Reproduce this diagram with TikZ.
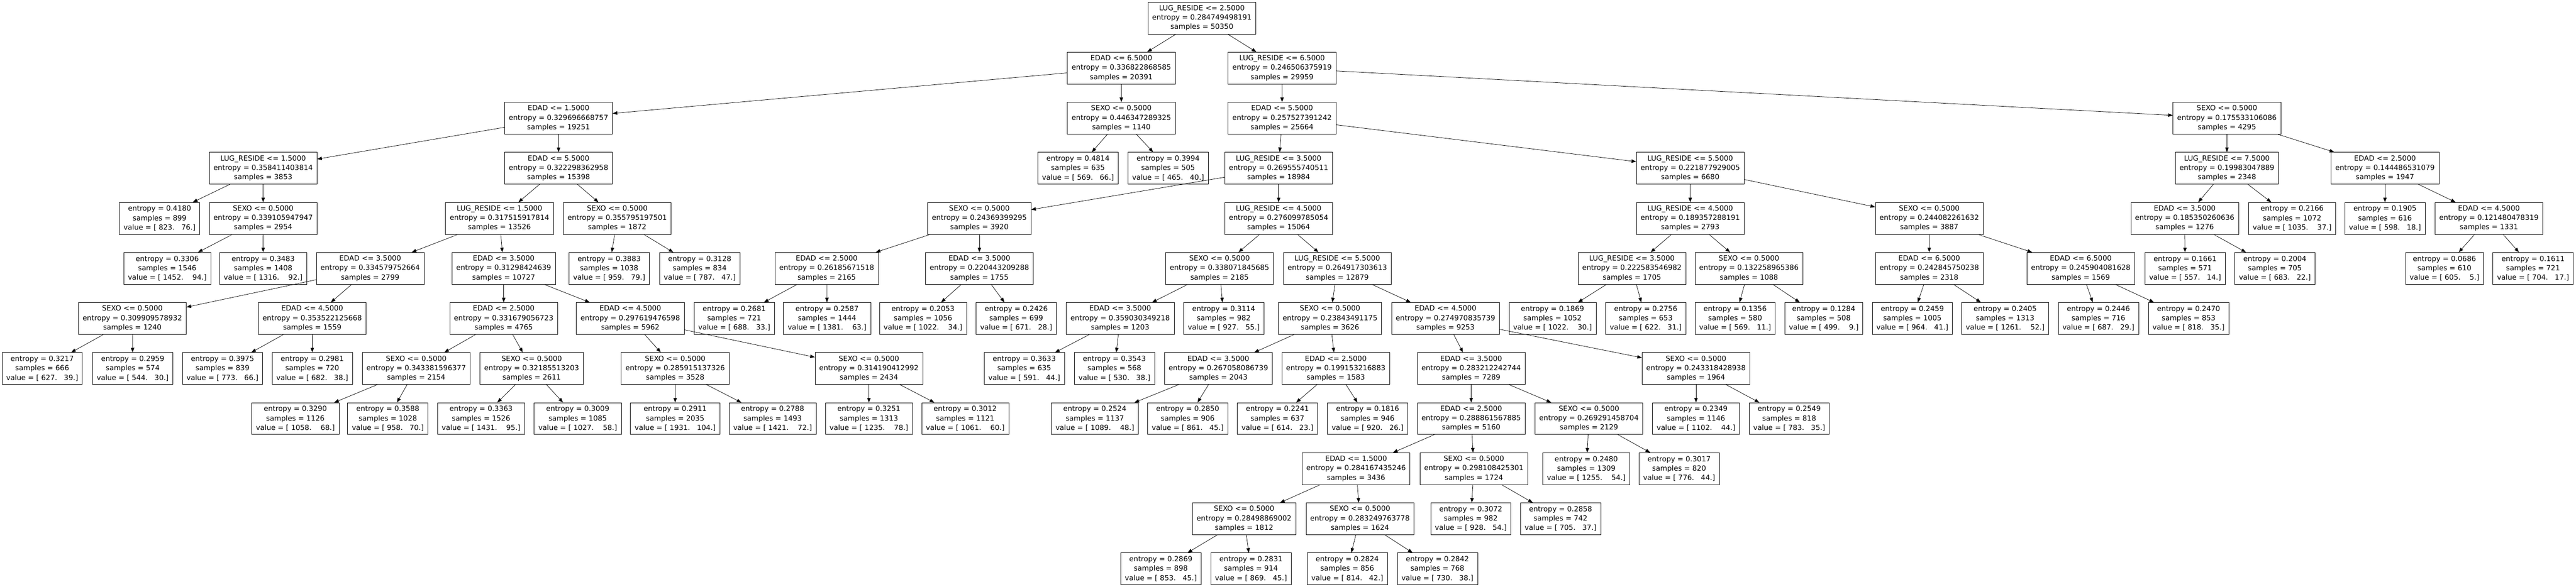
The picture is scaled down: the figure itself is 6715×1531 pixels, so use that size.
\documentclass[tikz,border=0pt]{standalone}
\usepackage{fontspec}
\setmainfont{DejaVu Sans}
\usepackage{tikz}
\usetikzlibrary{arrows.meta}
\newcommand{\tsp}{\ \ \ }
\newcommand{\fsp}{\ \ \ \ }
\begin{document}
\begin{tikzpicture}[x=1pt, y=-1pt, font=\fontsize{18.6}{24.5}\selectfont,
	box/.style={draw, line width=1pt, align=center, minimum height=83pt, inner xsep=11pt},
	cond/.style={box}, leaf/.style={box},
	link/.style={line width=1pt, -{Triangle[length=12pt,width=9pt]}}]
	
	\useasboundingbox (0,0) rectangle (6715,1531);
	
	%//split nodes: id/x/level/test/entropy/samples
	\foreach \id/\x/\l/\t/\e/\s in {
		0/3133/0/LUG\_RESIDE <= 2.5000/0.284749498191/50350,
		1/2923/1/EDAD <= 6.5000/0.336822868585/20391,
		2/1456/2/EDAD <= 1.5000/0.329696668757/19251,
		3/686/3/LUG\_RESIDE <= 1.5000/0.358411403814/3853,
		5/686/4/SEXO <= 0.5000/0.339105947947/2954,
		8/1456/3/EDAD <= 5.5000/0.322298362958/15398,
		9/1302/4/LUG\_RESIDE <= 1.5000/0.317515917814/13526,
		10/965/5/EDAD <= 3.5000/0.334579752664/2799,
		11/345/6/SEXO <= 0.5000/0.309909578932/1240,
		14/814/6/EDAD <= 4.5000/0.353522125668/1559,
		17/1313/5/EDAD <= 3.5000/0.31298424639/10727,
		18/1313/6/EDAD <= 2.5000/0.331679056723/4765,
		19/1085/7/SEXO <= 0.5000/0.343381596377/2154,
		22/1386/7/SEXO <= 0.5000/0.32185513203/2611,
		25/1643/6/EDAD <= 4.5000/0.297619476598/5962,
		26/1760/7/SEXO <= 0.5000/0.285915137326/3528,
		29/2265/7/SEXO <= 0.5000/0.314190412992/2434,
		32/1609/4/SEXO <= 0.5000/0.355795197501/1872,
		35/2923/2/SEXO <= 0.5000/0.446347289325/1140,
		38/3342/1/LUG\_RESIDE <= 6.5000/0.246506375919/29959,
		39/3342/2/EDAD <= 5.5000/0.257527391242/25664,
		40/3333/3/LUG\_RESIDE <= 3.5000/0.269555740511/18984,
		41/2553/4/SEXO <= 0.5000/0.24369399295/3920,
		42/2155/5/EDAD <= 2.5000/0.26185671518/2165,
		45/2553/5/EDAD <= 3.5000/0.220443209288/1755,
		48/3333/4/LUG\_RESIDE <= 4.5000/0.276099785054/15064,
		49/3179/5/SEXO <= 0.5000/0.338071845685/2185,
		50/2920/6/EDAD <= 3.5000/0.359030349218/1203,
		54/3486/5/LUG\_RESIDE <= 5.5000/0.264917303613/12879,
		55/3467/6/SEXO <= 0.5000/0.23843491175/3626,
		56/3176/7/EDAD <= 3.5000/0.267058086739/2043,
		59/3482/7/EDAD <= 2.5000/0.199153216883/1583,
		62/3768/6/EDAD <= 4.5000/0.274970835739/9253,
		63/3835/7/EDAD <= 3.5000/0.283212242744/7289,
		64/3835/8/EDAD <= 2.5000/0.288861567885/5160,
		65/3535/9/EDAD <= 1.5000/0.284167435246/3436,
		66/3243/10/SEXO <= 0.5000/0.28498869002/1812,
		69/3545/10/SEXO <= 0.5000/0.283249763778/1624,
		72/3842/9/SEXO <= 0.5000/0.298108425301/1724,
		75/4142/8/SEXO <= 0.5000/0.269291458704/2129,
		78/4421/7/SEXO <= 0.5000/0.243318428938/1964,
		81/4406/3/LUG\_RESIDE <= 5.5000/0.221877929005/6680,
		82/4406/4/LUG\_RESIDE <= 4.5000/0.189357288191/2793,
		83/4254/5/LUG\_RESIDE <= 3.5000/0.222583546982/1705,
		86/4559/5/SEXO <= 0.5000/0.132258965386/1088,
		89/5029/4/SEXO <= 0.5000/0.244082261632/3887,
		90/5029/5/EDAD <= 6.5000/0.242845750238/2318,
		93/5424/5/EDAD <= 6.5000/0.245904081628/1569,
		96/5805/2/SEXO <= 0.5000/0.175533106086/4295,
		97/5805/3/LUG\_RESIDE <= 7.5000/0.19983047889/2348,
		98/5695/4/EDAD <= 3.5000/0.185350260636/1276,
		102/6217/3/EDAD <= 2.5000/0.144486531079/1947,
		104/6488/4/EDAD <= 4.5000/0.121480478319/1331}
	\node[cond] (n\id) at (\x, {47+130.6*\l}) {\t\\entropy = \e\\samples = \s};
	
	%//leaves: id/x/level/entropy/samples/value
	\foreach \id/\x/\l/\e/\s/\v in {
		4/416/4/0.4180/899/823.\tsp 76.,
		6/436/5/0.3306/1546/1452.\fsp 94.,
		7/686/5/0.3483/1408/1316.\fsp 92.,
		12/110/7/0.3217/666/627.\tsp 39.,
		13/346/7/0.2959/574/544.\tsp 30.,
		15/580/7/0.3975/839/773.\tsp 66.,
		16/814/7/0.2981/720/682.\tsp 38.,
		20/770/8/0.3290/1126/1058.\fsp 68.,
		21/1011/8/0.3588/1028/958.\tsp 70.,
		23/1254/8/0.3363/1526/1431.\fsp 95.,
		24/1506/8/0.3009/1085/1027.\fsp 58.,
		27/1760/8/0.2911/2035/1931.\tsp 104.,
		28/2014/8/0.2788/1493/1421.\fsp 72.,
		30/2265/8/0.3251/1313/1235.\fsp 78.,
		31/2516/8/0.3012/1121/1061.\fsp 60.,
		33/1588/5/0.3883/1038/959.\tsp 79.,
		34/1824/5/0.3128/834/787.\tsp 47.,
		36/2810/3/0.4814/635/569.\tsp 66.,
		37/3045/3/0.3994/505/465.\tsp 40.,
		43/1914/6/0.2681/721/688.\tsp 33.,
		44/2156/6/0.2587/1444/1381.\fsp 63.,
		46/2406/6/0.2053/1056/1022.\fsp 34.,
		47/2649/6/0.2426/699/671.\tsp 28.,
		51/2670/7/0.3633/635/591.\tsp 44.,
		52/2905/7/0.3543/568/530.\tsp 38.,
		53/3190/6/0.3114/982/927.\tsp 55.,
		57/2854/8/0.2524/1137/1089.\fsp 48.,
		58/3096/8/0.2850/906/861.\tsp 45.,
		60/3330/8/0.2241/637/614.\tsp 23.,
		61/3565/8/0.1816/946/920.\tsp 26.,
		67/3026/11/0.2869/898/853.\tsp 45.,
		68/3261/11/0.2831/914/869.\tsp 45.,
		70/3512/11/0.2824/856/814.\tsp 42.,
		71/3747/11/0.2842/768/730.\tsp 38.,
		73/3834/10/0.3072/982/928.\tsp 54.,
		74/4068/10/0.2858/742/705.\tsp 37.,
		76/4135/9/0.2480/1309/1255.\fsp 54.,
		77/4377/9/0.3017/820/776.\tsp 44.,
		79/4421/8/0.2349/1146/1102.\fsp 44.,
		80/4664/8/0.2549/818/783.\tsp 35.,
		84/4047/6/0.1869/1052/1022.\fsp 30.,
		85/4290/6/0.2756/653/622.\tsp 31.,
		87/4523/6/0.1356/580/569.\tsp 11.,
		88/4754/6/0.1284/508/499.\fsp 9.,
		91/4985/6/0.2459/1005/964.\tsp 41.,
		92/5227/6/0.2405/1313/1261.\fsp 52.,
		94/5470/6/0.2446/716/687.\tsp 29.,
		95/5705/6/0.2470/853/818.\tsp 35.,
		99/5696/5/0.1661/571/557.\tsp 14.,
		100/5930/5/0.2004/705/683.\tsp 22.,
		101/5975/4/0.2166/1072/1035.\fsp 37.,
		103/6217/4/0.1905/616/598.\tsp 18.,
		105/6372/5/0.0686/610/605.\fsp 5.,
		106/6603/5/0.1611/721/704.\tsp 17.}
	\node[leaf] (n\id) at (\x, {47+130.6*\l}) {entropy = \e\\samples = \s\\value = [ \v]};
	
	%//parent/child
	\foreach \p/\c in {0/1, 0/38, 1/2, 1/35, 2/3, 2/8, 3/4, 3/5, 5/6, 5/7,
		8/9, 8/32, 9/10, 9/17, 10/11, 10/14, 11/12, 11/13, 14/15, 14/16,
		17/18, 17/25, 18/19, 18/22, 19/20, 19/21, 22/23, 22/24, 25/26, 25/29,
		26/27, 26/28, 29/30, 29/31, 32/33, 32/34, 35/36, 35/37, 38/39, 38/96,
		39/40, 39/81, 40/41, 40/48, 41/42, 41/45, 42/43, 42/44, 45/46, 45/47,
		48/49, 48/54, 49/50, 49/53, 50/51, 50/52, 54/55, 54/62, 55/56, 55/59,
		56/57, 56/58, 59/60, 59/61, 62/63, 62/78, 63/64, 63/75, 64/65, 64/72,
		65/66, 65/69, 66/67, 66/68, 69/70, 69/71, 72/73, 72/74, 75/76, 75/77,
		78/79, 78/80, 81/82, 81/89, 82/83, 82/86, 83/84, 83/85, 86/87, 86/88,
		89/90, 89/93, 90/91, 90/92, 93/94, 93/95, 96/97, 96/102, 97/98, 97/101,
		98/99, 98/100, 102/103, 102/104, 104/105, 104/106}
	\draw[link] (n\p) -- (n\c);
	
\end{tikzpicture}
\end{document}
